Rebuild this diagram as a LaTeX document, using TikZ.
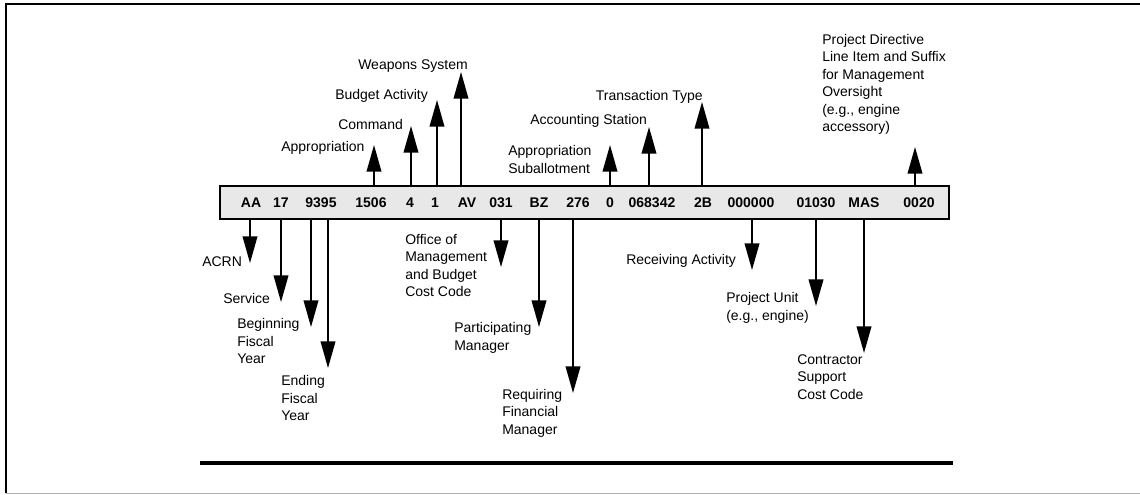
\documentclass[tikz,border=0pt]{standalone}
\usepackage{fontspec}
\setmainfont{Liberation Sans}
\usetikzlibrary{arrows.meta}
\tikzstyle{field}=[font=\fontsize{10.5}{13}\selectfont\bfseries, inner sep=0pt]
\newcommand{\field}{\node[field]}
\tikzstyle{lbl}=[align=left, anchor=west, inner sep=0pt]
\newcommand{\lbl}{\node[lbl]}
\tikzstyle{pointer}=[-{Triangle[length=20pt,width=11pt]}, line width=1.3pt]

\begin{document}
\begin{tikzpicture}[x=0.75pt, y=-0.75pt, font=\fontsize{10.5}{13.1}\selectfont]
    \useasboundingbox (0,0) rectangle (1140,494);
    % page frame
    \draw[line width=1.2pt] (1140,4) -- (6,4) -- (6,493);
    \draw[gray!60, line width=0.5pt] (6,493) -- (1140,493);

    % the code bar
    \node[draw, line width=1.6pt, fill=gray!18, inner sep=0pt,
          minimum width=546.75pt, minimum height=24.75pt] (bar) at (584.5,202.5) {};
    \field (aa) at (251,203) {AA};
    \field (f17) at (281,203) {17};
    \field (fy) at (321,203) {9395};
    \field (f1506) at (371,203) {1506};
    \field (f4) at (410,203) {4};
    \field (f1) at (435,203) {1};
    \field (av) at (467,203) {AV};
    \field (f031) at (501,203) {031};
    \field (bz) at (539,203) {BZ};
    \field (f276) at (578,203) {276};
    \field (f0) at (610,203) {0};
    \field (stn) at (652,203) {068342};
    \field (tt) at (703,203) {2B};
    \field (rcv) at (751,203) {000000};
    \field (unit) at (816,203) {01030};
    \field (mas) at (864,203) {MAS};
    \field (sfx) at (919,203) {0020};

    % labels above
    \lbl (appr) at (281,148) {Appropriation};
    \lbl (cmd) at (338,124) {Command};
    \lbl (bact) at (335,96) {Budget Activity};
    \lbl (weap) at (358,66) {Weapons System};
    \lbl (subal) at (508,159.5) {Appropriation\\Suballotment};
    \lbl (acst) at (530,121) {Accounting Station};
    \node[lbl, anchor=east] (trty) at (703,97) {Transaction Type};
    \lbl (pdir) at (822,84.3) {Project Directive\\Line Item and Suffix\\for Management\\Oversight\\(e.g., engine\\accessory)};

    % labels below
    \lbl (acrn) at (202,262) {ACRN};
    \lbl (serv) at (223,298) {Service};
    \lbl (bfy) at (237,341) {Beginning\\Fiscal\\Year};
    \lbl (efy) at (281,398) {Ending\\Fiscal\\Year};
    \lbl (omb) at (405,265.5) {Office of\\Management\\and Budget\\Cost Code};
    \lbl (pmgr) at (454,338) {Participating\\Manager};
    \lbl (rfm) at (502,413) {Requiring\\Financial\\Manager};
    \lbl (ract) at (626,261) {Receiving Activity};
    \lbl (punit) at (726,308) {Project Unit\\(e.g., engine)};
    \lbl (csc) at (797,377) {Contractor\\Support\\Cost Code};

    % arrow tips
    \coordinate (tappr) at (374,145);
    \coordinate (tcmd) at (411,126);
    \coordinate (tbact) at (437,100);
    \coordinate (tweap) at (461,72);
    \coordinate (tsubal) at (610,145);
    \coordinate (tacst) at (649,127);
    \coordinate (ttrty) at (702,102);
    \coordinate (tpdir) at (915,147);
    \coordinate (tacrn) at (250,263);
    \coordinate (tserv) at (281,302);
    \coordinate (tbfy) at (311,327);
    \coordinate (tefy) at (328,368);
    \coordinate (tomb) at (501,267);
    \coordinate (tpmgr) at (539,327);
    \coordinate (trfm) at (573,393);
    \coordinate (tract) at (752,270);
    \coordinate (tpunit) at (816,306);
    \coordinate (tcsc) at (864,353);

    \path[pointer]
        (bar.north -| tappr) edge (tappr)
        (bar.north -| tcmd) edge (tcmd)
        (bar.north -| tbact) edge (tbact)
        (bar.north -| tweap) edge (tweap)
        (bar.north -| tsubal) edge (tsubal)
        (bar.north -| tacst) edge (tacst)
        (bar.north -| ttrty) edge (ttrty)
        (bar.north -| tpdir) edge (tpdir)
        (bar.south -| tacrn) edge (tacrn)
        (bar.south -| tserv) edge (tserv)
        (bar.south -| tbfy) edge (tbfy)
        (bar.south -| tefy) edge (tefy)
        (bar.south -| tomb) edge (tomb)
        (bar.south -| tpmgr) edge (tpmgr)
        (bar.south -| trfm) edge (trfm)
        (bar.south -| tract) edge (tract)
        (bar.south -| tpunit) edge (tpunit)
        (bar.south -| tcsc) edge (tcsc)
    ;

    % rule under the figure
    \draw[line width=3pt] (200,463) -- (953,463);
\end{tikzpicture}
\end{document}
